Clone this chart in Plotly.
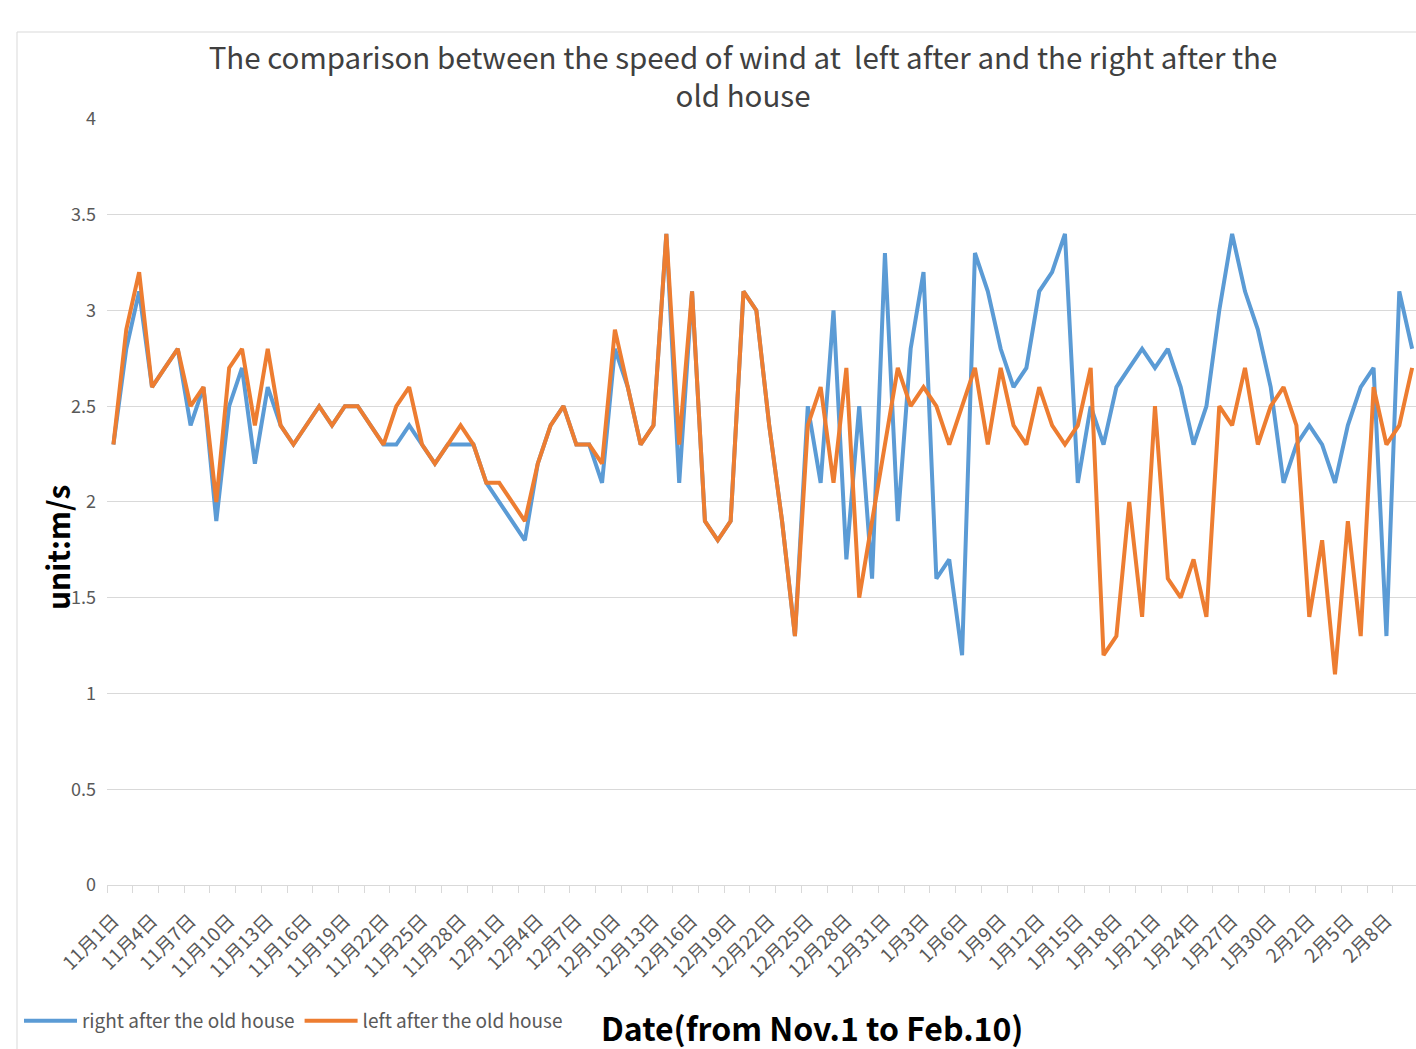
import plotly.graph_objects as go

# ---- data ----
month_names = ["11月", "12月", "1月", "2月"]
month_days = [30, 31, 31, 10]
dates = [f"{m}{d}日" for m, n in zip(month_names, month_days) for d in range(1, n + 1)]

right_after = [
    2.3, 2.8, 3.1, 2.6, 2.7, 2.8, 2.4, 2.6, 1.9, 2.5,
    2.7, 2.2, 2.6, 2.4, 2.3, 2.4, 2.5, 2.4, 2.5, 2.5,
    2.4, 2.3, 2.3, 2.4, 2.3, 2.2, 2.3, 2.3, 2.3, 2.1,
    2.0, 1.9, 1.8, 2.2, 2.4, 2.5, 2.3, 2.3, 2.1, 2.8,
    2.6, 2.3, 2.4, 3.4, 2.1, 3.1, 1.9, 1.8, 1.9, 3.1,
    3.0, 2.4, 1.9, 1.3, 2.5, 2.1, 3.0, 1.7, 2.5, 1.6,
    3.3, 1.9, 2.8, 3.2, 1.6, 1.7, 1.2, 3.3, 3.1, 2.8,
    2.6, 2.7, 3.1, 3.2, 3.4, 2.1, 2.5, 2.3, 2.6, 2.7,
    2.8, 2.7, 2.8, 2.6, 2.3, 2.5, 3.0, 3.4, 3.1, 2.9,
    2.6, 2.1, 2.3, 2.4, 2.3, 2.1, 2.4, 2.6, 2.7, 1.3,
    3.1, 2.8,
]

left_after = [
    2.3, 2.9, 3.2, 2.6, 2.7, 2.8, 2.5, 2.6, 2.0, 2.7,
    2.8, 2.4, 2.8, 2.4, 2.3, 2.4, 2.5, 2.4, 2.5, 2.5,
    2.4, 2.3, 2.5, 2.6, 2.3, 2.2, 2.3, 2.4, 2.3, 2.1,
    2.1, 2.0, 1.9, 2.2, 2.4, 2.5, 2.3, 2.3, 2.2, 2.9,
    2.6, 2.3, 2.4, 3.4, 2.3, 3.1, 1.9, 1.8, 1.9, 3.1,
    3.0, 2.4, 1.9, 1.3, 2.4, 2.6, 2.1, 2.7, 1.5, 1.9,
    2.3, 2.7, 2.5, 2.6, 2.5, 2.3, 2.5, 2.7, 2.3, 2.7,
    2.4, 2.3, 2.6, 2.4, 2.3, 2.4, 2.7, 1.2, 1.3, 2.0,
    1.4, 2.5, 1.6, 1.5, 1.7, 1.4, 2.5, 2.4, 2.7, 2.3,
    2.5, 2.6, 2.4, 1.4, 1.8, 1.1, 1.9, 1.3, 2.6, 2.3,
    2.4, 2.7,
]

y_ticks = [0, 0.5, 1, 1.5, 2, 2.5, 3, 3.5, 4]
y_tick_text = ["0", "0.5", "1", "1.5", "2", "2.5", "3", "3.5", "4"]
x_tick_labels = dates[::3]

title_text = ("The comparison between the speed of wind at  left after and the right after the"
              "<br>old house")
series_names = ["right after the old house", "left after the old house"]

# ---- figure ----
FONT = "Noto Sans CJK SC"
GRAY = "#595959"
GRID = "#D9D9D9"
W, H = 1416, 1049
L, R, T, B = 107, 0, 118, 164
PW, PH = W - L - R, H - T - B


def px_x(x):
    return (x - L) / PW


def px_y(y):
    return (H - B - y) / PH


fig = go.Figure()
fig.add_trace(go.Scatter(x=dates, y=right_after, mode="lines", name=series_names[0],
                         line=dict(color="#5B9BD5", width=4)))
fig.add_trace(go.Scatter(x=dates, y=left_after, mode="lines", name=series_names[1],
                         line=dict(color="#ED7D31", width=4)))
# empty trace that carries the overlay axis used for the boundary tick marks
fig.add_trace(go.Scatter(x=[], y=[], xaxis="x2", showlegend=False, hoverinfo="skip"))

x_range = [-0.5, 101.3]

fig.update_layout(
    width=W, height=H,
    margin=dict(l=L, r=R, t=T, b=B),
    paper_bgcolor="white", plot_bgcolor="white",
    font=dict(family=FONT, color=GRAY),
    title=dict(text=title_text, x=743 / W, xanchor="center",
               y=1 - 69 / H, yanchor="middle",
               font=dict(size=29.5, color="#404040", family=FONT)),
    showlegend=True,
    legend=dict(orientation="h", x=px_x(19), xanchor="left", y=px_y(1021), yanchor="middle",
                font=dict(size=19, color=GRAY), itemwidth=53, tracegroupgap=0,
                bgcolor="rgba(0,0,0,0)"),
    xaxis=dict(
        type="category", range=x_range,
        tickmode="array", tickvals=x_tick_labels, ticktext=x_tick_labels,
        tickangle=-45, tickfont=dict(size=19, color=GRAY, family=FONT),
        showgrid=False, showline=True, linecolor=GRID, linewidth=1,
        ticks="", ticklabelstandoff=16, zeroline=False,
    ),
    xaxis2=dict(
        overlaying="x", anchor="y", side="bottom", range=x_range,
        tickmode="array", tickvals=[i - 0.5 for i in range(0, len(dates) + 1, 2)],
        showticklabels=False, ticks="outside", ticklen=7, tickcolor=GRID,
        showgrid=False, showline=False, zeroline=False,
    ),
    yaxis=dict(
        range=[0, 4.005], tickmode="array", tickvals=y_ticks, ticktext=y_tick_text,
        tickfont=dict(size=18, color=GRAY, family=FONT),
        showgrid=True, gridcolor=GRID, gridwidth=1, zeroline=False,
        showline=False, ticks="", ticklabelstandoff=10,
    ),
)

# axis titles as annotations
fig.add_annotation(text="<b>Date(from Nov.1 to Feb.10)</b>", xref="paper", yref="paper",
                   x=px_x(812), y=px_y(1027), showarrow=False,
                   xanchor="center", yanchor="middle",
                   font=dict(size=32, color="black", family=FONT))
fig.add_annotation(text="<b>unit:m/s</b>", xref="paper", yref="paper",
                   x=px_x(57), y=px_y(548), showarrow=False,
                   textangle=-90, xanchor="center", yanchor="middle",
                   font=dict(size=30, color="black", family=FONT))

# chart-area frame (left & top edges)
fig.add_shape(type="line", xref="paper", yref="paper",
              x0=px_x(17), x1=px_x(17), y0=px_y(H + 5), y1=px_y(32),
              line=dict(color=GRID, width=1))
fig.add_shape(type="line", xref="paper", yref="paper",
              x0=px_x(17), x1=px_x(W + 5), y0=px_y(32), y1=px_y(32),
              line=dict(color=GRID, width=1))

fig.write_html("out.html", config={"displayModeBar": False},
               post_script="document.body.style.margin='0px';")
